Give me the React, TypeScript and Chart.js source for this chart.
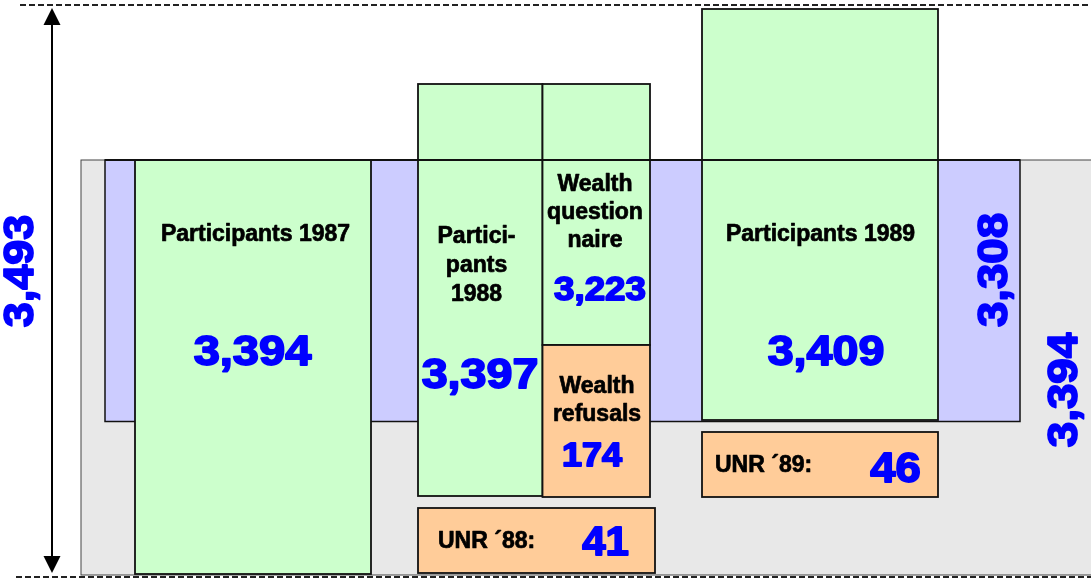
import React, { useEffect, useRef } from "react";
import { Chart, registerables } from "chart.js";

Chart.register(...registerables);

// ---- data ----
const boxNames = [
  "Participants 1987",
  "Participants 1988",
  "Wealth questionnaire",
  "Wealth refusals",
  "UNR ´88",
  "Participants 1989",
  "UNR ´89",
];
const boxCounts = [3394, 3397, 3223, 174, 41, 3409, 46];
const totalNames = ["Sample 1987", "Both waves", "Panel 1989"];
const totalCounts = [3493, 3308, 3394];

// ---- layout (diagram units, separate from data) ----
type Rect = [number, number, number, number]; // x0, x1, yTop, yBottom
const GREEN = "#CCFFCC";
const ORANGE = "#FFCC99";
const LAVENDER = "#CCCCFF";
const GRAY = "#E8E8E8";
const BLUE = "#0000FF";

const backRects: { r: Rect; fill: string; stroke: string; w: number }[] = [
  { r: [81, 1100, 160, 575], fill: GRAY, stroke: "#444", w: 1 },
  { r: [105, 1020, 160, 421.5], fill: LAVENDER, stroke: "#111", w: 1.5 },
];
const boxRects: Rect[] = [
  [135, 371, 160, 574],
  [418, 542.5, 84, 496],
  [542.5, 650, 84, 345],
  [542.5, 650, 345, 497],
  [418, 655, 508, 573],
  [702, 938, 9, 420],
  [702, 938, 432, 497],
];
const boxFills = [GREEN, GREEN, GREEN, ORANGE, ORANGE, GREEN, ORANGE];

type Lbl = { lines: string[]; x: number; y: number[]; align: CanvasTextAlign };
const boxLabels: Lbl[] = [
  { lines: ["Participants 1987"], x: 255.5, y: [241], align: "center" },
  { lines: ["Partici-", "pants", "1988"], x: 476.5, y: [243, 272, 301], align: "center" },
  { lines: ["Wealth", "question", "naire"], x: 595, y: [191, 219, 247], align: "center" },
  { lines: ["Wealth", "refusals"], x: 597, y: [393, 421], align: "center" },
  { lines: ["UNR ´88:"], x: 438, y: [548], align: "left" },
  { lines: ["Participants 1989"], x: 820.5, y: [241], align: "center" },
  { lines: ["UNR ´89:"], x: 715, y: [472], align: "left" },
];
// value text: center x, baseline y, font size, horizontal stretch
const valuePos: [number, number, number, number][] = [
  [252.5, 365, 42, 1.12],
  [480, 388, 42, 1.11],
  [600, 300, 34, 1.08],
  [592, 466, 33, 1.09],
  [605.5, 555, 40, 1.05],
  [826, 365, 42, 1.11],
  [895.5, 482, 42, 1.08],
];
// rotated totals: baseline x, center y, size, stretch
const totalPos: [number, number, number, number][] = [
  [33, 271, 42, 1.07],
  [1007, 270, 43, 1.06],
  [1077, 390, 42, 1.09],
];

const FONT = '"Liberation Sans", Arial, Helvetica, sans-serif';
const fmt = (v: number) => v.toLocaleString("en-US");

const diagramPlugin = {
  id: "diagram",
  afterDraw(chart: any) {
    const ctx: CanvasRenderingContext2D = chart.ctx;
    const xs = chart.scales.x;
    const ys = chart.scales.y;
    const X = (v: number) => xs.getPixelForValue(v);
    const Y = (v: number) => ys.getPixelForValue(v);

    const rect = (r: Rect, fill: string, stroke: string, w: number) => {
      const x0 = X(r[0]), x1 = X(r[1]), y0 = Y(r[2]), y1 = Y(r[3]);
      ctx.fillStyle = fill;
      ctx.fillRect(x0, y0, x1 - x0, y1 - y0);
      ctx.strokeStyle = stroke;
      ctx.lineWidth = w;
      ctx.strokeRect(x0, y0, x1 - x0, y1 - y0);
    };
    const line = (x0: number, y0: number, x1: number, y1: number, color: string, w: number, dash: number[] = []) => {
      ctx.save();
      ctx.strokeStyle = color;
      ctx.lineWidth = w;
      ctx.setLineDash(dash);
      ctx.beginPath();
      ctx.moveTo(X(x0), Y(y0));
      ctx.lineTo(X(x1), Y(y1));
      ctx.stroke();
      ctx.restore();
    };
    const text = (
      t: string, x: number, y: number, size: number, color: string,
      align: CanvasTextAlign, sx = 1, rot = 0, heavy = 0.6
    ) => {
      ctx.save();
      ctx.translate(X(x), Y(y));
      if (rot) ctx.rotate(rot);
      ctx.scale(sx, 1);
      ctx.font = `bold ${size}px ${FONT}`;
      ctx.fillStyle = color;
      ctx.strokeStyle = color;
      ctx.lineWidth = heavy;
      ctx.lineJoin = "round";
      ctx.textAlign = align;
      ctx.textBaseline = "alphabetic";
      ctx.fillText(t, 0, 0);
      if (heavy > 0) ctx.strokeText(t, 0, 0);
      ctx.restore();
    };

    ctx.save();
    // dashed guide lines
    line(20, 5, 1091, 5, "#222", 2, [6, 3]);
    line(16, 577, 1091, 577, "#222", 2, [6, 3]);

    backRects.forEach((b) => rect(b.r, b.fill, b.stroke, b.w));
    boxRects.forEach((r, i) => rect(r, boxFills[i], "#111", 1.8));
    // top edge of the common band drawn across the boxes
    line(105, 160, 1020, 160, "#111", 1.8);

    // double arrow
    line(52, 24, 52, 557, "#000", 2);
    const head = (tipY: number, baseY: number) => {
      ctx.fillStyle = "#000";
      ctx.beginPath();
      ctx.moveTo(X(52), Y(tipY));
      ctx.lineTo(X(43.5), Y(baseY));
      ctx.lineTo(X(60.5), Y(baseY));
      ctx.closePath();
      ctx.fill();
    };
    head(8, 25);
    head(573, 556);

    // labels
    boxLabels.forEach((l) => {
      l.lines.forEach((ln, j) => text(ln, l.x, l.y[j], 23, "#000", l.align, 1, 0, 0.7));
    });
    boxCounts.forEach((v, i) => {
      const p = valuePos[i];
      text(fmt(v), p[0], p[1], p[2], BLUE, "center", p[3], 0, 1.8);
    });
    totalCounts.forEach((v, i) => {
      const p = totalPos[i];
      ctx.save();
      ctx.translate(X(p[0]), Y(p[1]));
      ctx.rotate(-Math.PI / 2);
      ctx.scale(p[3], 1);
      ctx.font = `bold ${p[2]}px ${FONT}`;
      ctx.fillStyle = BLUE;
      ctx.strokeStyle = BLUE;
      ctx.lineWidth = 1.8;
      ctx.lineJoin = "round";
      ctx.textAlign = "center";
      ctx.textBaseline = "alphabetic";
      ctx.fillText(fmt(v), 0, 0);
      ctx.strokeText(fmt(v), 0, 0);
      ctx.restore();
    });
    ctx.restore();
  },
};

export default function App() {
  const ref = useRef<HTMLCanvasElement | null>(null);
  useEffect(() => {
    if (!ref.current) return;
    const chart = new Chart(ref.current, {
      type: "scatter",
      data: {
        datasets: [
          {
            label: boxNames.join(", ") + " | " + totalNames.join(", "),
            data: [],
            pointRadius: 0,
          },
        ],
      },
      options: {
        animation: false,
        responsive: false,
        devicePixelRatio: 1,
        layout: { padding: 0 },
        plugins: { legend: { display: false }, tooltip: { enabled: false } },
        scales: {
          x: { type: "linear", min: 0, max: 1091, display: false },
          y: { type: "linear", min: 0, max: 578, reverse: true, display: false },
        },
      },
      plugins: [diagramPlugin],
    });
    return () => chart.destroy();
  }, []);
  return (
    <div style={{ position: "absolute", left: 0, top: 0, width: 1091, height: 578, background: "#fff" }}>
      <canvas ref={ref} width={1091} height={578} style={{ display: "block" }} />
    </div>
  );
}
